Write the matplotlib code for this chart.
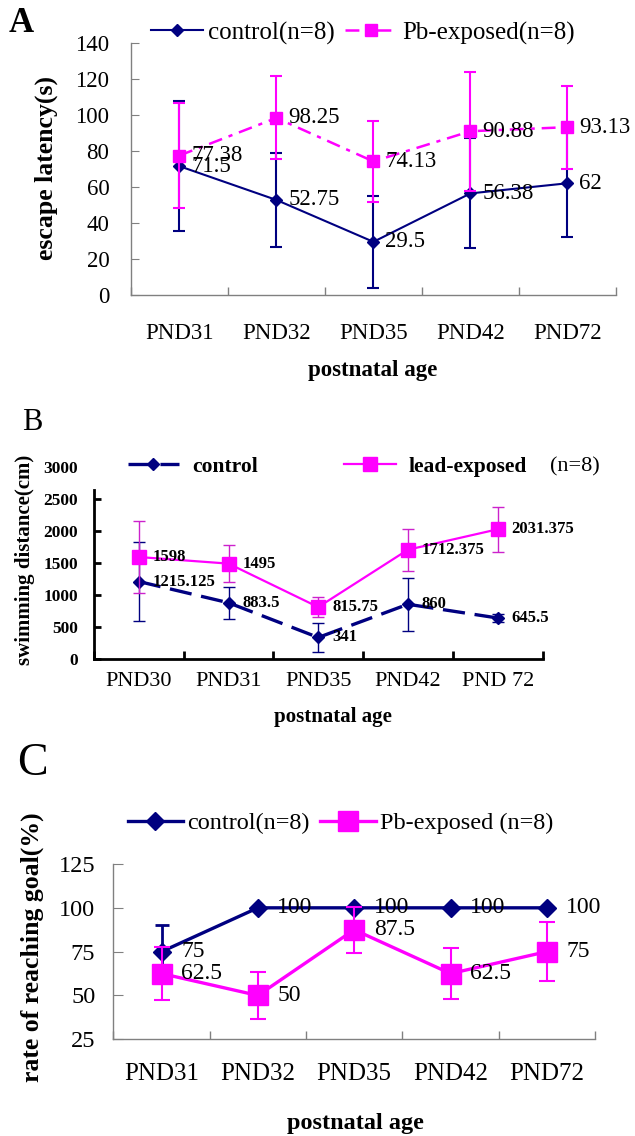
import matplotlib.pyplot as plt
import numpy as np

plt.rcParams['font.family'] = ['Liberation Serif', 'DejaVu Serif']
plt.rcParams['lines.scale_dashes'] = False

NAVY = '#000080'
PINK = '#FF00FF'

# panel A: escape latency
days_a = ['PND31', 'PND32', 'PND35', 'PND42', 'PND72']
ctrl_a = [71.5, 52.75, 29.5, 56.38, 62]
ctrl_a_err = [36, 26, 25.5, 30.5, 30]
pb_a = [77.38, 98.25, 74.13, 90.88, 93.13]
pb_a_err = [29, 23, 22.5, 33, 23]

# panel B: swimming distance
days_b = ['PND30', 'PND31', 'PND35', 'PND42', 'PND 72']
ctrl_b = [1215.125, 883.5, 341, 860, 645.5]
ctrl_b_err = [615, 250, 230, 410, 60]
pb_b = [1598, 1495, 815.75, 1712.375, 2031.375]
pb_b_err = [560, 290, 160, 330, 350]

# panel C: rate of reaching goal
days_c = ['PND31', 'PND32', 'PND35', 'PND42', 'PND72']
ctrl_c = [75, 100, 100, 100, 100]
ctrl_c_err = [15, 0, 0, 0, 0]
pb_c = [62.5, 50, 87.5, 62.5, 75]
pb_c_err = [15, 13.5, 13, 14.5, 17]

W, H = 635, 1136
fig = plt.figure(figsize=(W / 100, H / 100), dpi=100)


def box(l, r, top, bot):
    return [l / W, 1 - bot / H, (r - l) / W, (bot - top) / H]


def fmt(v):
    return f'{v:.10g}'


def cat_axis(ax, labels, color, lw, xsize, xpad, tlen):
    x = np.arange(len(labels))
    ax.set_xlim(-0.5, len(labels) - 0.5)
    ax.set_xticks(x)
    ax.set_xticklabels(labels, fontsize=xsize)
    ax.set_xticks(np.arange(len(labels) + 1) - 0.5, minor=True)
    ax.tick_params(axis='x', which='major', length=0, pad=xpad)
    ax.tick_params(axis='x', which='minor', direction='in', length=tlen,
                   width=lw, color=color)
    for s in ['top', 'right']:
        ax.spines[s].set_visible(False)
    for s in ['left', 'bottom']:
        ax.spines[s].set_color(color)
        ax.spines[s].set_linewidth(lw)
    return x


# ---------------- A ----------------
axA = fig.add_axes(box(130.8, 616, 42.7, 295))
x = cat_axis(axA, days_a, '#808080', 1, 16.5, 20, 6)
axA.set_ylim(0, 140)
axA.set_yticks(np.arange(0, 141, 20))
axA.tick_params(axis='y', direction='in', length=6, color='#808080',
                labelsize=16.5, pad=15.5)
axA.errorbar(x, ctrl_a, yerr=ctrl_a_err, fmt='none', ecolor=NAVY,
             elinewidth=1.5, capsize=4.3, capthick=1.5)
la, = axA.plot(x, ctrl_a, color=NAVY, lw=1.5, marker='D', ms=5.8)
axA.errorbar(x, pb_a, yerr=pb_a_err, fmt='none', ecolor=PINK,
             elinewidth=1.5, capsize=4.3, capthick=1.5)
lb, = axA.plot(x, pb_a, color=PINK, lw=1.8, marker='s', ms=8,
               dashes=(10, 5, 3, 5))
for xi, v in zip(x, ctrl_a):
    axA.annotate(fmt(v), (xi, v), xytext=(8.5, 0), textcoords='offset points',
                 va='center', fontsize=16.5)
for xi, v in zip(x, pb_a):
    axA.annotate(fmt(v), (xi, v), xytext=(8.5, 0), textcoords='offset points',
                 va='center', fontsize=16.5)
axA.set_ylabel('escape latency(s)', fontsize=18.5, fontweight='bold', va='center')
axA.yaxis.set_label_coords(-0.175, 0.505)
axA.set_xlabel('postnatal age', fontsize=16.5, fontweight='bold', va='center')
axA.xaxis.set_label_coords(0.499, -0.301)
axA.legend([la, lb], ['control(n=8)', 'Pb-exposed(n=8)'], loc='center left',
           bbox_to_anchor=(150.6 / W, 1 - 33 / H), bbox_transform=fig.transFigure,
           ncol=2, frameon=False, prop={'size': 18}, handlelength=2.1,
           handletextpad=0.2, columnspacing=0.4, borderpad=0, borderaxespad=0)
fig.text(21 / W, 1 - 24 / H, 'A', fontsize=25, fontweight='bold',
         ha='center', va='center')

# ---------------- B ----------------
axB = fig.add_axes(box(94, 542.5, 467.3, 659.3))
x = cat_axis(axB, days_b, 'black', 2, 16, 9, 6)
axB.set_ylim(0, 3000)
axB.set_yticks(np.arange(0, 3001, 500))
axB.spines['left'].set_bounds(0, 2650)
axB.tick_params(axis='y', direction='in', length=5, width=2,
                labelsize=12.5, pad=11.5)
axB.yaxis.get_major_ticks()[-1].tick1line.set_visible(False)
for t in axB.get_yticklabels():
    t.set_fontweight('bold')
axB.errorbar(x, ctrl_b, yerr=ctrl_b_err, fmt='none', ecolor=NAVY,
             elinewidth=1, capsize=4.3, capthick=1)
lc, = axB.plot(x, ctrl_b, color=NAVY, lw=2.4, marker='D', ms=6.6,
               dashes=(16, 7))
axB.errorbar(x, pb_b, yerr=pb_b_err, fmt='none', ecolor='#CC22CC',
             elinewidth=1, capsize=4.3, capthick=1)
ld, = axB.plot(x, pb_b, color=PINK, lw=1.6, marker='s', ms=9.5)
for xi, v in zip(x, ctrl_b):
    axB.annotate(fmt(v), (xi, v), xytext=(10, 0), textcoords='offset points',
                 va='center', fontsize=12, fontweight='bold')
for xi, v in zip(x, pb_b):
    axB.annotate(fmt(v), (xi, v), xytext=(10, 0), textcoords='offset points',
                 va='center', fontsize=12, fontweight='bold')
axB.set_ylabel('swimming distance(cm)', fontsize=15, fontweight='bold', va='center')
axB.yaxis.set_label_coords(-0.154, 0.517)
axB.set_xlabel('postnatal age', fontsize=15, fontweight='bold', va='center')
axB.xaxis.set_label_coords(0.532, -0.299)
axB.legend([lc, ld], ['control', 'lead-exposed'], loc='center left',
           bbox_to_anchor=(127.5 / W, 1 - 467 / H), bbox_transform=fig.transFigure,
           ncol=2, frameon=False, prop={'size': 15.5, 'weight': 'bold'},
           handlelength=2.4, handletextpad=0.6, columnspacing=4.0,
           borderpad=0, borderaxespad=0)
fig.text(550 / W, 1 - 467 / H, '(n=8)', fontsize=16, va='center')
fig.text(32 / W, 1 - 423 / H, 'B', fontsize=22, ha='center', va='center')

# ---------------- C ----------------
axC = fig.add_axes(box(113.4, 595, 864, 1039.3))
x = cat_axis(axC, days_c, '#808080', 1, 18, 17, 6)
axC.set_ylim(25, 125)
axC.set_yticks(np.arange(25, 126, 25))
axC.tick_params(axis='y', direction='in', length=7, color='#808080',
                labelsize=17.5, pad=13)
axC.errorbar(x, ctrl_c, yerr=ctrl_c_err, fmt='none', ecolor=NAVY,
             elinewidth=2, capsize=5, capthick=2)
le, = axC.plot(x, ctrl_c, color=NAVY, lw=2.4, marker='D', ms=9.5)
axC.errorbar(x, pb_c, yerr=pb_c_err, fmt='none', ecolor=PINK,
             elinewidth=1.5, capsize=5.5, capthick=1.5)
lf, = axC.plot(x, pb_c, color=PINK, lw=2.4, marker='s', ms=15)
for xi, v in zip(x, ctrl_c):
    axC.annotate(fmt(v), (xi, v), xytext=(14, 0), textcoords='offset points',
                 va='center', fontsize=17)
for xi, v in zip(x, pb_c):
    axC.annotate(fmt(v), (xi, v), xytext=(14, 0), textcoords='offset points',
                 va='center', fontsize=17)
axC.set_ylabel('rate of reaching goal(%)', fontsize=18.5, fontweight='bold', va='center')
axC.yaxis.set_label_coords(-0.169, 0.524)
axC.set_xlabel('postnatal age', fontsize=17.5, fontweight='bold', va='center')
axC.xaxis.set_label_coords(0.502, -0.479)
axC.legend([le, lf], ['control(n=8)', 'Pb-exposed (n=8)'], loc='center left',
           bbox_to_anchor=(127.5 / W, 1 - 823.3 / H), bbox_transform=fig.transFigure,
           ncol=2, frameon=False, prop={'size': 17.5}, handlelength=2.3,
           handletextpad=0.17, columnspacing=0.4, borderpad=0, borderaxespad=0)
fig.text(32 / W, 1 - 764 / H, 'C', fontsize=33, ha='center', va='center')

fig.savefig('out.png', dpi=100)
